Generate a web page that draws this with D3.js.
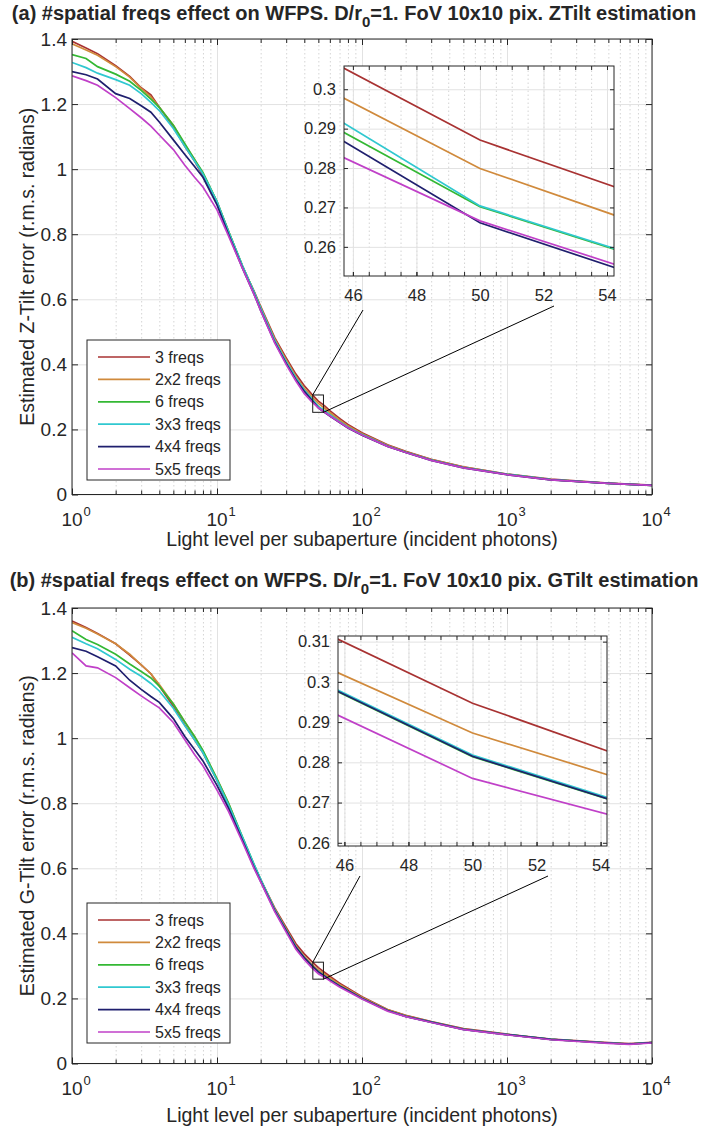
<!DOCTYPE html>
<html lang="en">
<head>
<meta charset="utf-8">
<title>Spatial freqs effect on WFPS</title>
<script src="https://d3js.org/d3.v7.min.js"></script>
<style>
  body { margin: 0; background: #fff; }
  svg text { font-family: "Liberation Sans", Arial, sans-serif; fill: #262626; }
  .grid line { stroke: #e2e2e2; }
  .minorgrid line { stroke: #d4d4d4; stroke-dasharray: 1.5,2.5; }
  .grid .domain, .minorgrid .domain, .tk .domain { display: none; }
  .tk line { stroke: #262626; }
</style>
</head>
<body>
<svg id="chart" width="708" height="1128"></svg>
<script>
// light level per subaperture (incident photons)
const xVals = [1, 1.25, 1.5, 2, 2.5, 3, 3.5, 4, 5, 6, 7, 8, 10, 12, 15, 18, 20, 25, 30, 35,
               40, 45, 50, 55, 60, 70, 80, 100, 150, 200, 300, 500, 1000, 2000, 5000, 7000, 10000];

const seriesNames = ["3 freqs", "2x2 freqs", "6 freqs", "3x3 freqs", "4x4 freqs", "5x5 freqs"];
const seriesColors = ["#a83232", "#d08a3c", "#34b834", "#30c8d0", "#1f1f6e", "#c040c8"];

// (a) ZTilt estimation error
const zt3 = [1.393,1.372,1.355,1.318,1.285,1.25,1.228,1.19,1.13,1.07,1.025,0.98,0.895,0.805,0.70,0.625,0.578,0.482,0.42,0.37,
             0.334,0.3084,0.2871,0.2731,0.258,0.234,0.215,0.19,0.153,0.133,0.108,0.085,0.063,0.047,0.035,0.032,0.029];
const zt2x2 = [1.385,1.366,1.35,1.315,1.283,1.248,1.222,1.19,1.135,1.075,1.03,0.985,0.9,0.81,0.702,0.624,0.575,0.478,0.414,0.363,
               0.326,0.3007,0.2799,0.2659,0.252,0.229,0.211,0.187,0.151,0.131,0.107,0.084,0.062,0.046,0.034,0.031,0.028];
const zt6 = [1.352,1.34,1.315,1.292,1.27,1.242,1.215,1.19,1.135,1.078,1.03,0.99,0.9,0.81,0.702,0.622,0.572,0.472,0.405,0.355,
             0.318,0.2922,0.2702,0.2574,0.245,0.224,0.207,0.184,0.149,0.13,0.106,0.083,0.062,0.046,0.034,0.031,0.028];
const zt3x3 = [1.328,1.312,1.295,1.275,1.258,1.232,1.205,1.18,1.125,1.07,1.025,0.985,0.9,0.808,0.703,0.623,0.573,0.474,0.408,0.358,
               0.321,0.2949,0.2704,0.2576,0.245,0.224,0.207,0.184,0.149,0.13,0.106,0.083,0.062,0.046,0.034,0.031,0.028];
const zt4x4 = [1.30,1.29,1.277,1.232,1.217,1.195,1.175,1.145,1.09,1.045,1.008,0.975,0.89,0.80,0.695,0.616,0.566,0.468,0.403,0.353,
               0.317,0.2902,0.2661,0.2527,0.241,0.221,0.204,0.182,0.148,0.129,0.105,0.082,0.061,0.045,0.034,0.031,0.028];
const zt5x5 = [1.287,1.272,1.258,1.22,1.186,1.158,1.132,1.105,1.06,1.012,0.975,0.945,0.875,0.795,0.695,0.615,0.565,0.466,0.399,0.349,
               0.31,0.2853,0.2666,0.2536,0.242,0.222,0.205,0.183,0.148,0.129,0.105,0.082,0.061,0.045,0.034,0.031,0.028];

// (b) GTilt estimation error
const gt3 = [1.36,1.34,1.322,1.29,1.255,1.225,1.198,1.16,1.098,1.04,0.995,0.955,0.87,0.795,0.69,0.608,0.565,0.478,0.418,0.368,
             0.337,0.3136,0.2947,0.2806,0.268,0.247,0.231,0.205,0.166,0.148,0.129,0.107,0.09,0.075,0.064,0.061,0.065];
const gt2x2 = [1.355,1.338,1.32,1.29,1.258,1.225,1.198,1.165,1.105,1.05,1.005,0.96,0.875,0.80,0.693,0.61,0.565,0.475,0.413,0.361,
               0.329,0.3051,0.2873,0.2750,0.263,0.243,0.228,0.203,0.165,0.147,0.128,0.106,0.089,0.074,0.063,0.06,0.064];
const gt6 = [1.33,1.303,1.288,1.258,1.228,1.205,1.185,1.16,1.105,1.05,1.005,0.962,0.875,0.80,0.696,0.612,0.565,0.472,0.41,0.357,
             0.325,0.3006,0.2814,0.2689,0.257,0.238,0.224,0.200,0.163,0.145,0.127,0.105,0.089,0.074,0.063,0.06,0.064];
const gt3x3 = [1.31,1.29,1.275,1.242,1.212,1.19,1.168,1.145,1.092,1.038,0.995,0.955,0.87,0.795,0.695,0.612,0.567,0.473,0.41,0.358,
               0.325,0.3010,0.2818,0.2693,0.2575,0.238,0.224,0.200,0.163,0.145,0.127,0.105,0.089,0.074,0.063,0.06,0.064];
const gt4x4 = [1.278,1.267,1.25,1.222,1.178,1.15,1.128,1.11,1.06,1.005,0.965,0.93,0.855,0.785,0.685,0.603,0.56,0.47,0.408,0.357,
               0.325,0.3007,0.2815,0.2690,0.257,0.238,0.224,0.200,0.163,0.145,0.127,0.105,0.089,0.074,0.063,0.06,0.064];
const gt5x5 = [1.262,1.222,1.216,1.186,1.155,1.13,1.11,1.093,1.048,0.995,0.95,0.915,0.84,0.775,0.68,0.60,0.558,0.467,0.404,0.351,
               0.319,0.2947,0.2760,0.2654,0.254,0.235,0.221,0.198,0.161,0.144,0.126,0.104,0.088,0.073,0.062,0.059,0.063];

// ticks
const yTicks = [0, 0.2, 0.4, 0.6, 0.8, 1, 1.2, 1.4];
const xMajor = [1, 10, 100, 1000, 10000];
const insetXTicks = [46, 48, 50, 52, 54];
const insetYTicksA = [0.26, 0.27, 0.28, 0.29, 0.3];
const insetYTicksB = [0.26, 0.27, 0.28, 0.29, 0.3, 0.31];

// zoom window of the insets
const insetXDomA = [45.72, 54.22], insetYDomA = [0.2526, 0.3059];
const insetXDomB = [45.8, 54.2],   insetYDomB = [0.2592, 0.3114];

//layout
const plotLeft = 72, plotRight = 652, plotH = 455.5;
const plotW = plotRight - plotLeft;
const lineW = 1.7;

const xMinor = [];
for (let d = 1; d < 10000; d *= 10) for (let m = 2; m <= 9; m++) xMinor.push(m * d);
const insetMinor = d3.range(46, 54.01, 0.5);

const svg = d3.select("#chart");
svg.append("rect").attr("width", 708).attr("height", 1128).attr("fill", "#fff");

const panels = [
  {id: "a", top: 39, titleY: 20, xLabelY: 546, legendTop: 340,
   title: ["(a) #spatial freqs effect on WFPS. D/r", "=1. FoV 10x10 pix. ZTilt estimation"],
   ylabel: "Estimated Z-Tilt error (r.m.s. radians)",
   series: [zt3, zt2x2, zt6, zt3x3, zt4x4, zt5x5],
   inset: {left: 344, right: 614, top: 66, bottom: 276, xd: insetXDomA, yd: insetYDomA, yt: insetYTicksA},
   lineEnds: [[363, 310], [554, 306]]},
  {id: "b", top: 608, titleY: 587, xLabelY: 1122, legendTop: 903,
   title: ["(b) #spatial freqs effect on WFPS. D/r", "=1. FoV 10x10 pix. GTilt estimation"],
   ylabel: "Estimated G-Tilt error (r.m.s. radians)",
   series: [gt3, gt2x2, gt6, gt3x3, gt4x4, gt5x5],
   inset: {left: 338, right: 607, top: 636, bottom: 846, xd: insetXDomB, yd: insetYDomB, yt: insetYTicksB},
   lineEnds: [[360, 876], [548, 876]]}
];

panels.forEach(drawPanel);

function drawPanel(p) {
  const g = svg.append("g");
  const bottom = p.top + plotH;
  const x = d3.scaleLog().domain([1, 10000]).range([plotLeft, plotRight]);
  const y = d3.scaleLinear().domain([0, 1.4]).range([bottom, p.top]);

  g.append("clipPath").attr("id", "clip" + p.id)
    .append("rect").attr("x", plotLeft).attr("y", p.top).attr("width", plotW).attr("height", plotH);

  // grid
  g.append("g").attr("class", "minorgrid").attr("transform", `translate(0,${bottom})`)
    .call(d3.axisBottom(x).tickValues(xMinor).tickSize(-plotH).tickFormat(""));
  g.append("g").attr("class", "grid").attr("transform", `translate(0,${bottom})`)
    .call(d3.axisBottom(x).tickValues(xMajor).tickSize(-plotH).tickFormat(""));
  g.append("g").attr("class", "grid").attr("transform", `translate(${plotLeft},0)`)
    .call(d3.axisLeft(y).tickValues(yTicks).tickSize(-plotW).tickFormat(""));

  // curves
  const line = d3.line().x((d, i) => x(xVals[i])).y(d => y(d));
  p.series.forEach((s, k) => {
    g.append("path").attr("d", line(s)).attr("fill", "none")
      .attr("stroke", seriesColors[k]).attr("stroke-width", lineW)
      .attr("clip-path", `url(#clip${p.id})`);
  });

  // ticks (inward) on all four sides
  g.append("g").attr("class", "tk").attr("transform", `translate(0,${bottom})`)
    .call(d3.axisBottom(x).tickValues(xMajor).tickSize(-6).tickFormat(""));
  g.append("g").attr("class", "tk").attr("transform", `translate(0,${bottom})`)
    .call(d3.axisBottom(x).tickValues(xMinor).tickSize(-4).tickFormat(""));
  g.append("g").attr("class", "tk").attr("transform", `translate(0,${p.top})`)
    .call(d3.axisTop(x).tickValues(xMajor).tickSize(-6).tickFormat(""));
  g.append("g").attr("class", "tk").attr("transform", `translate(0,${p.top})`)
    .call(d3.axisTop(x).tickValues(xMinor).tickSize(-4).tickFormat(""));
  g.append("g").attr("class", "tk").attr("transform", `translate(${plotRight},0)`)
    .call(d3.axisRight(y).tickValues(yTicks).tickSize(-6).tickFormat(""));
  const yAx = g.append("g").attr("class", "tk").attr("transform", `translate(${plotLeft},0)`)
    .call(d3.axisLeft(y).tickValues(yTicks).tickSize(-6).tickPadding(5).tickFormat(d3.format("~g")));
  yAx.selectAll("text").attr("font-size", 19).style("font-family", null).attr("fill", "#262626");

  g.append("rect").attr("x", plotLeft).attr("y", p.top).attr("width", plotW).attr("height", plotH)
    .attr("fill", "none").attr("stroke", "#262626").attr("stroke-width", 1);

  // x tick labels 10^n
  xMajor.forEach(v => {
    const t = g.append("text").attr("x", x(v)).attr("y", bottom + 31)
      .attr("text-anchor", "middle").attr("font-size", 19).text("10");
    const w = t.node().getComputedTextLength();
    g.append("text").attr("x", x(v) + w / 2 + 1).attr("y", bottom + 21)
      .attr("font-size", 13).text(Math.round(Math.log10(v)));
  });

  // axis labels and title
  g.append("text").attr("x", (plotLeft + plotRight) / 2).attr("y", p.xLabelY)
    .attr("text-anchor", "middle").attr("font-size", 19.5)
    .text("Light level per subaperture (incident photons)");
  g.append("text").attr("transform", `translate(27,${p.top + plotH / 2}) rotate(-90)`)
    .attr("text-anchor", "middle").attr("dy", "0.35em").attr("font-size", 19.5)
    .text(p.ylabel);
  const title = g.append("text").attr("x", 354).attr("y", p.titleY)
    .attr("text-anchor", "middle").attr("font-size", 20).attr("font-weight", "bold")
    .attr("fill", "#000");
  title.append("tspan").text(p.title[0]);
  title.append("tspan").attr("dy", 7).attr("font-size", 15).text("0");
  title.append("tspan").attr("dy", -7).text(p.title[1]);

  // legend
  const lg = g.append("g");
  lg.append("rect").attr("x", 87).attr("y", p.legendTop).attr("width", 143).attr("height", 140)
    .attr("fill", "#fff").attr("stroke", "#262626");
  seriesNames.forEach((name, k) => {
    const ly = p.legendTop + 17 + k * 22.4;
    lg.append("line").attr("x1", 98).attr("x2", 150).attr("y1", ly).attr("y2", ly)
      .attr("stroke", seriesColors[k]).attr("stroke-width", lineW);
    lg.append("text").attr("x", 155).attr("y", ly).attr("dy", "0.35em")
      .attr("font-size", 16).text(name);
  });

  // zoom box and connectors
  const ins = p.inset;
  const bx0 = x(ins.xd[0]), bx1 = x(ins.xd[1]), by0 = y(ins.yd[1]), by1 = y(ins.yd[0]);
  g.append("rect").attr("x", bx0).attr("y", by0).attr("width", bx1 - bx0).attr("height", by1 - by0)
    .attr("fill", "none").attr("stroke", "#1a1a1a").attr("stroke-width", 1);
  g.append("line").attr("x1", bx0).attr("y1", by0).attr("x2", p.lineEnds[0][0]).attr("y2", p.lineEnds[0][1])
    .attr("stroke", "#000").attr("stroke-width", 1);
  g.append("line").attr("x1", bx1).attr("y1", by1).attr("x2", p.lineEnds[1][0]).attr("y2", p.lineEnds[1][1])
    .attr("stroke", "#000").attr("stroke-width", 1);

  drawInset(g, p);
}

function drawInset(g, p) {
  const ins = p.inset;
  const w = ins.right - ins.left, h = ins.bottom - ins.top;
  const ix = d3.scaleLinear().domain(ins.xd).range([ins.left, ins.right]);
  const iy = d3.scaleLinear().domain(ins.yd).range([ins.bottom, ins.top]);
  const gi = g.append("g");

  gi.append("rect").attr("x", ins.left).attr("y", ins.top).attr("width", w).attr("height", h).attr("fill", "#fff");
  gi.append("clipPath").attr("id", "iclip" + p.id)
    .append("rect").attr("x", ins.left).attr("y", ins.top).attr("width", w).attr("height", h);

  gi.append("g").attr("class", "minorgrid").attr("transform", `translate(0,${ins.bottom})`)
    .call(d3.axisBottom(ix).tickValues(insetMinor).tickSize(-h).tickFormat(""));
  gi.append("g").attr("class", "grid").attr("transform", `translate(0,${ins.bottom})`)
    .call(d3.axisBottom(ix).tickValues(insetXTicks).tickSize(-h).tickFormat(""));
  gi.append("g").attr("class", "grid").attr("transform", `translate(${ins.left},0)`)
    .call(d3.axisLeft(iy).tickValues(ins.yt).tickSize(-w).tickFormat(""));

  const line = d3.line().x((d, i) => ix(xVals[i])).y(d => iy(d));
  p.series.forEach((s, k) => {
    gi.append("path").attr("d", line(s)).attr("fill", "none")
      .attr("stroke", seriesColors[k]).attr("stroke-width", lineW)
      .attr("clip-path", `url(#iclip${p.id})`);
  });

  gi.append("g").attr("class", "tk").attr("transform", `translate(0,${ins.bottom})`)
    .call(d3.axisBottom(ix).tickValues(insetMinor).tickSize(-4).tickFormat(""));
  gi.append("g").attr("class", "tk").attr("transform", `translate(0,${ins.top})`)
    .call(d3.axisTop(ix).tickValues(insetMinor).tickSize(-4).tickFormat(""));
  gi.append("g").attr("class", "tk").attr("transform", `translate(${ins.right},0)`)
    .call(d3.axisRight(iy).tickValues(ins.yt).tickSize(-4).tickFormat(""));
  const ly = gi.append("g").attr("class", "tk").attr("transform", `translate(${ins.left},0)`)
    .call(d3.axisLeft(iy).tickValues(ins.yt).tickSize(-4).tickPadding(8).tickFormat(d3.format("~g")));
  ly.selectAll("text").attr("font-size", 16.5).style("font-family", null).attr("fill", "#262626");
  const lx = gi.append("g").attr("class", "tk").attr("transform", `translate(0,${ins.bottom})`)
    .call(d3.axisBottom(ix).tickValues(insetXTicks).tickSize(-4).tickPadding(0).tickFormat(d3.format("d")));
  lx.selectAll("text").attr("font-size", 16.5).style("font-family", null).attr("fill", "#262626")
    .attr("y", 25).attr("dy", null);

  gi.append("rect").attr("x", ins.left).attr("y", ins.top).attr("width", w).attr("height", h)
    .attr("fill", "none").attr("stroke", "#262626").attr("stroke-width", 1);
}
</script>
</body>
</html>
